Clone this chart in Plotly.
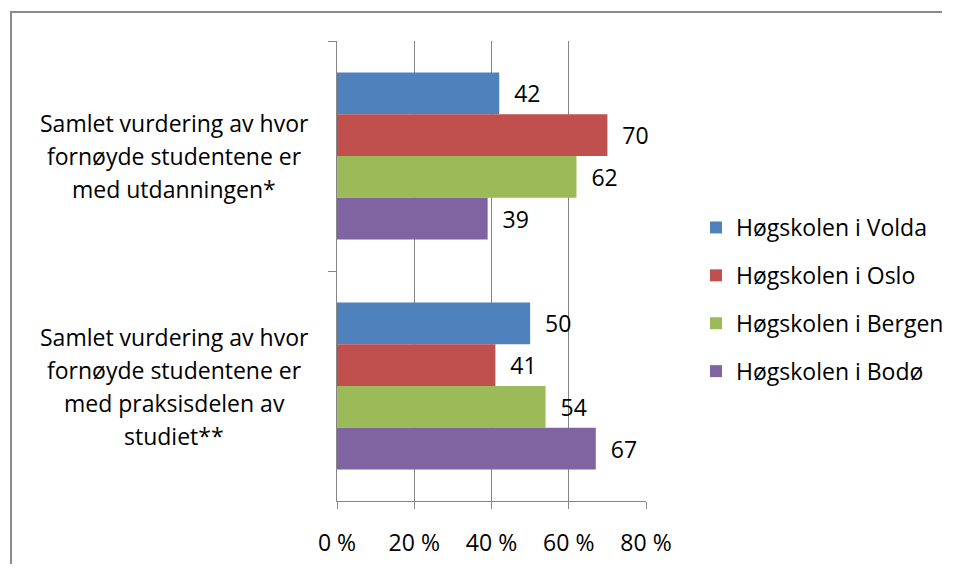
import plotly.graph_objects as go

# ---- data ----
categories = [
    "Samlet vurdering av hvor fornøyde studentene er med utdanningen*",
    "Samlet vurdering av hvor fornøyde studentene er med praksisdelen av studiet**",
]
category_lines = [
    ["Samlet vurdering av hvor", "fornøyde studentene er", "med utdanningen*"],
    ["Samlet vurdering av hvor", "fornøyde studentene er", "med praksisdelen av", "studiet**"],
]
schools = ["Høgskolen i Volda", "Høgskolen i Oslo", "Høgskolen i Bergen", "Høgskolen i Bodø"]
volda = [42, 50]
oslo = [70, 41]
bergen = [62, 54]
bodo = [39, 67]
series = [volda, oslo, bergen, bodo]
colors = ["#4F81BD", "#C0504D", "#9BBB59", "#8064A2"]
x_tickvals = [0, 20, 40, 60, 80]
x_ticktext = ["0 %", "20 %", "40 %", "60 %", "80 %"]

FONT = "Open Sans"
FS = 23
GRID = "#868686"
FRAME = "#8a8a8a"

# page body has an 8px margin; figure sized so the page does not scroll
W, H = 934, 556
L, T = 329, 33
PW, PH = 309, 460
R = W - (L + PW)
B = H - (T + PH)

def px(xw):
    return (xw - 8 - L) / PW

def py(yw):
    return 1 - (yw - 8 - T) / PH

fig = go.Figure()
for name, vals, col in zip(schools, series, colors):
    fig.add_trace(go.Bar(
        y=categories, x=vals, name=name, orientation="h",
        marker=dict(color=col, line=dict(width=0)),
        text=["\u00a0\u00a0" + str(v) for v in vals],
        textposition="outside", cliponaxis=False, constraintext="none",
        textfont=dict(family=FONT, size=FS, color="black"),
        legendgroup=name,
    ))

# category labels as multi-line annotations (Excel-like line spacing)
annotations = []
LINE = 33
for cat, lines in zip(categories, category_lines):
    n = len(lines)
    for i, ln in enumerate(lines):
        annotations.append(dict(
            x=px(174), xref="paper", y=cat, yref="y", text=ln,
            showarrow=False, xanchor="center", yanchor="middle",
            yshift=-(i - (n - 1) / 2) * LINE,
            font=dict(family=FONT, size=FS, color="black"),
        ))

fig.update_layout(
    width=W, height=H,
    margin=dict(l=L, r=R, t=T, b=B, autoexpand=False),
    paper_bgcolor="white", plot_bgcolor="white",
    barmode="group", bargap=0.273, bargroupgap=0,
    font=dict(family=FONT, size=FS, color="black"),
    xaxis=dict(range=[0, 80], tickvals=x_tickvals, ticktext=x_ticktext,
               showgrid=True, gridcolor=GRID, gridwidth=1,
               showline=True, linecolor=GRID, linewidth=1,
               ticks="outside", ticklen=7, tickcolor=GRID,
               zeroline=False, ticklabelstandoff=14,
               tickfont=dict(family=FONT, size=FS, color="black")),
    yaxis=dict(type="category", categoryorder="array", categoryarray=categories,
               range=[1.5, -0.5], showline=True, linecolor=GRID, linewidth=1,
               ticks="outside", tickson="boundaries", ticklen=8, tickcolor=GRID,
               showticklabels=False, showgrid=False, zeroline=False),
    legend=dict(x=px(696), y=py(206), xanchor="left", yanchor="top",
                traceorder="grouped", tracegroupgap=15,
                bgcolor="rgba(0,0,0,0)",
                font=dict(family=FONT, size=FS, color="black")),
    annotations=annotations,
    shapes=[
        dict(type="line", xref="paper", yref="paper",
             x0=px(10), x1=px(1000), y0=py(12), y1=py(12),
             line=dict(color=FRAME, width=2), layer="below"),
        dict(type="line", xref="paper", yref="paper",
             x0=px(11), x1=px(11), y0=py(11), y1=py(640),
             line=dict(color=FRAME, width=2), layer="below"),
    ],
)

fig.write_html("out.html")
